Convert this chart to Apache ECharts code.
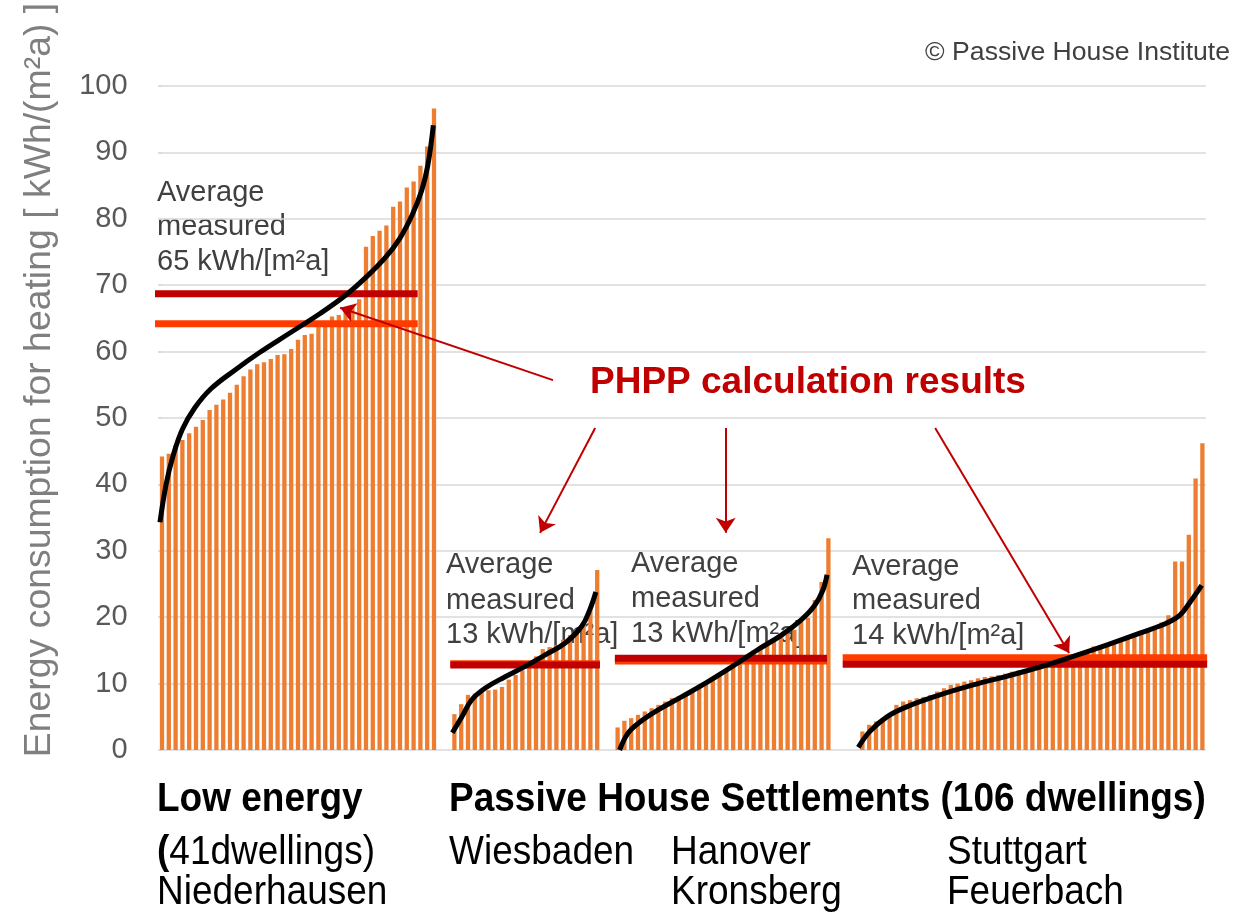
<!DOCTYPE html>
<html><head><meta charset="utf-8">
<script src="https://cdn.jsdelivr.net/npm/echarts@6/dist/echarts.min.js"></script>
<style>html,body{margin:0;padding:0;background:#fff}#c{width:1235px;height:915px}</style>
</head><body><div id="c"></div>
<script>
// ---- data ----
const groupNames = ['Niederhausen', 'Wiesbaden', 'Hanover Kronsberg', 'Stuttgart Feuerbach'];
const lowEnergy = [44.2,44.6,45.9,46.7,47.7,48.7,49.7,51.2,52.0,52.8,53.8,55.0,56.3,57.3,58.1,58.4,58.9,59.5,59.6,60.4,61.8,62.5,62.7,63.8,64.3,65.3,65.5,66.3,67.0,67.9,75.8,77.4,78.2,79.0,81.8,82.6,84.7,85.6,88.0,90.9,96.6];
const wiesbaden = [5.4,6.9,8.3,8.5,8.8,9.0,9.1,9.5,10.6,11.3,12.0,13.0,14.1,15.2,15.5,15.8,16.6,17.3,17.8,19.0,21.5,27.1];
const hanover = [3.4,4.4,4.8,5.3,5.8,6.3,6.8,7.3,7.8,8.1,8.5,9.0,9.4,10.0,10.5,11.1,11.8,12.5,13.3,14.3,15.0,15.6,16.1,16.6,17.1,17.6,18.1,19.3,19.9,22.6,25.3,31.9];
const stuttgart = [2.8,3.8,4.3,4.8,5.5,6.8,7.3,7.5,7.8,8.0,8.3,8.8,9.3,9.8,10.0,10.3,10.5,10.8,11.0,11.1,11.3,11.5,11.8,12.0,12.2,12.4,12.6,12.8,13.1,13.4,13.7,14.0,14.4,14.8,15.6,15.7,15.9,16.1,16.6,16.8,17.3,17.6,18.1,18.6,19.2,20.3,28.4,28.4,32.4,40.9,46.2];
const yTicks = [0,10,20,30,40,50,60,70,80,90,100];

// PHPP calculated curves: [rank within group, kWh/(m²a)]
const lowCurve = [[-0.3,34.3],[0.6,40.0],[1.6,44.2],[3.0,48.3],[4.8,51.5],[7.2,54.4],[10.7,57.2],[14.4,59.9],[18.8,62.8],[23.2,65.7],[26.9,68.4],[29.9,71.1],[32.8,74.1],[35,77.1],[36.8,80.6],[38.2,84.3],[39.1,88.1],[39.9,94.1]];
const wiesCurve = [[-0.3,2.6],[1.1,5.0],[2.5,7.5],[4.5,9.3],[7.4,11.0],[10.4,12.6],[13.3,14.3],[16.3,16.1],[18.7,18.6],[19.9,21.1],[20.8,23.8]];
const hanCurve = [[0.3,0],[1.5,2.5],[3,4.0],[5.9,6.0],[9.4,8.0],[13.3,10.3],[17.2,12.8],[20.6,15.1],[24.1,17.3],[27,19.6],[29,21.8],[30.2,24.1],[30.8,26.4]];
const stuCurve = [[-0.6,0.4],[1.1,2.8],[3.6,5.0],[6.5,6.5],[11.4,8.3],[16.3,9.8],[21.2,11.1],[26.1,12.5],[31,14.1],[35.9,15.8],[40.8,17.6],[44.7,19.1],[46.7,20.3],[48.2,22.3],[49.9,24.8]];

// average levels per group: [measured (orange), calculated (dark red)]
const measuredAvg = [64.2, 13.0, 13.4, 13.9];
const calcAvg = [68.7, 12.8, 13.8, 12.9];
// span of the average bars, in ranks within the group
const avgSpan = [[-2.2,37.6],[-0.6,21.4],[-0.4,30.8],[-2.9,50.7]];

// ---- build ----
const groups = [lowEnergy, wiesbaden, hanover, stuttgart];
const gaps = [2, 2, 4];
const categories = [], barData = [], starts = [];
groups.forEach((g, gi) => {
  starts.push(barData.length);
  g.forEach((v, i) => { categories.push(groupNames[gi] + ' ' + (i + 1)); barData.push(v); });
  if (gi < gaps.length) for (let k = 0; k < gaps[gi]; k++) { categories.push('gap ' + gi + '-' + k); barData.push(null); }
});
const N = categories.length;

// arrows from the "PHPP calculation results" label (x in dwelling slots, y in kWh)
const arrows = [
  [[57.5,55.7],[26.2,66.6]],
  [[63.7,48.5],[55.6,32.7]],
  [[82.9,48.5],[82.9,32.7]],
  [[113.7,48.5],[133.4,14.6]]
];

const FONT = 'Liberation Sans, Arial, Helvetica, sans-serif';
const series = [];
series.push({
  type: 'bar', data: barData, xAxisIndex: 0, yAxisIndex: 0,
  barCategoryGap: '37%', itemStyle: { color: '#ED7D31' }, z: 1, silent: true
});
groups.forEach((g, gi) => {
  const s = starts[gi];
  series.push({
    type: 'line', xAxisIndex: 1, yAxisIndex: 0, clip: false, symbol: 'none', z: 3, silent: true,
    data: [[s + avgSpan[gi][0], measuredAvg[gi]], [s + avgSpan[gi][1], measuredAvg[gi]]],
    lineStyle: { color: '#FF3C00', width: 7, cap: 'butt' }
  });
  series.push({
    type: 'line', xAxisIndex: 1, yAxisIndex: 0, clip: false, symbol: 'none', z: 4, silent: true,
    data: [[s + avgSpan[gi][0], calcAvg[gi]], [s + avgSpan[gi][1], calcAvg[gi]]],
    lineStyle: { color: '#C00000', width: 7, cap: 'butt' }
  });
});
[lowCurve, wiesCurve, hanCurve, stuCurve].forEach((c, gi) => {
  series.push({
    type: 'line', xAxisIndex: 1, yAxisIndex: 0, clip: false, symbol: 'none',
    smooth: 0.4, z: 5, silent: true,
    data: c.map(p => [starts[gi] + p[0], p[1]]),
    lineStyle: { color: '#000', width: 5 }
  });
});
series.push({
  type: 'lines', coordinateSystem: 'cartesian2d', xAxisIndex: 1, yAxisIndex: 0, z: 6, silent: true,
  symbol: ['none', 'arrow'], symbolSize: 15,
  lineStyle: { color: '#C00000', width: 2, opacity: 1 },
  data: arrows.map(a => ({ coords: a }))
});

function txt(text, x, y, size, color, opts) {
  opts = opts || {};
  return {
    type: 'text', x: x, y: y, z: opts.z != null ? opts.z : 0, rotation: opts.rotation || 0,
    scaleX: opts.sx || 1, scaleY: opts.sy || 1, silent: true,
    style: {
      text: text, fill: color, fontSize: size, fontFamily: FONT, fontWeight: opts.bold ? 'bold' : 'normal',
      textAlign: opts.align || 'left', align: opts.align || 'left',
      textVerticalAlign: 'middle', verticalAlign: 'middle', rich: opts.rich
    }
  };
}
const gray = '#404040';
const graphics = [
  txt('Energy consumption for heating [ kWh/(m²a) ]', 40, 380, 37.4, '#7F7F7F', { rotation: Math.PI / 2, align: 'center' }),
  txt('© Passive House Institute', 1230, 53, 26.6, gray, { align: 'right' }),
  txt('PHPP calculation results', 590, 383, 37, '#C00000', { bold: true, z: 10 }),
  txt('Average', 157, 193, 29, gray), txt('measured', 157, 227, 29, gray), txt('65 kWh/[m²a]', 157, 262, 29, gray),
  txt('Average', 446, 565, 29, gray), txt('measured', 446, 601, 29, gray), txt('13 kWh/[m²a]', 446, 635, 29, gray),
  txt('Average', 631, 564, 29, gray), txt('measured', 631, 599, 29, gray), txt('13 kWh/[m²a]', 631, 634, 29, gray),
  txt('Average', 852, 567, 29, gray), txt('measured', 852, 601, 29, gray), txt('14 kWh/[m²a]', 852, 636, 29, gray),
  txt('Low energy', 157, 800, 37, '#000', { bold: true, sy: 1.08 }),
  txt('Passive House Settlements (106 dwellings)', 449, 800, 37, '#000', { bold: true, sy: 1.08 }),
  txt('{b|(}41dwellings)', 157, 853, 37, '#000', { sy: 1.08, rich: { b: { fontWeight: 'bold', fontSize: 37, fontFamily: FONT, fill: '#000' } } }),
  txt('Niederhausen', 157, 893, 37, '#000', { sy: 1.08 }),
  txt('Wiesbaden', 449, 853, 37, '#000', { sy: 1.08 }),
  txt('Hanover', 671, 853, 37, '#000', { sy: 1.08 }),
  txt('Kronsberg', 671, 893, 37, '#000', { sy: 1.08 }),
  txt('Stuttgart', 947, 853, 37, '#000', { sy: 1.08 }),
  txt('Feuerbach', 947, 893, 37, '#000', { sy: 1.08 })
];

const chart = echarts.init(document.getElementById('c'), null, { renderer: 'canvas' });
chart.setOption({
  animation: false,
  backgroundColor: '#fff',
  grid: { left: 158.6, right: 29.2, top: 86, bottom: 165, containLabel: false, outerBoundsMode: 'none' },
  xAxis: [
    { type: 'category', data: categories, boundaryGap: true, show: false },
    { type: 'value', min: -0.5, max: N - 0.5, show: false }
  ],
  yAxis: {
    type: 'value', min: yTicks[0], max: yTicks[yTicks.length - 1], interval: 10,
    axisLine: { show: false },
    axisTick: { show: true, length: 4, lineStyle: { color: '#d9d9d9', width: 1.5 } },
    axisLabel: { fontSize: 29, color: '#595959', margin: 31, fontFamily: FONT },
    splitLine: { lineStyle: { color: '#d9d9d9', width: 1.5 } }
  },
  graphic: { elements: graphics },
  series: series
});
</script></body></html>
